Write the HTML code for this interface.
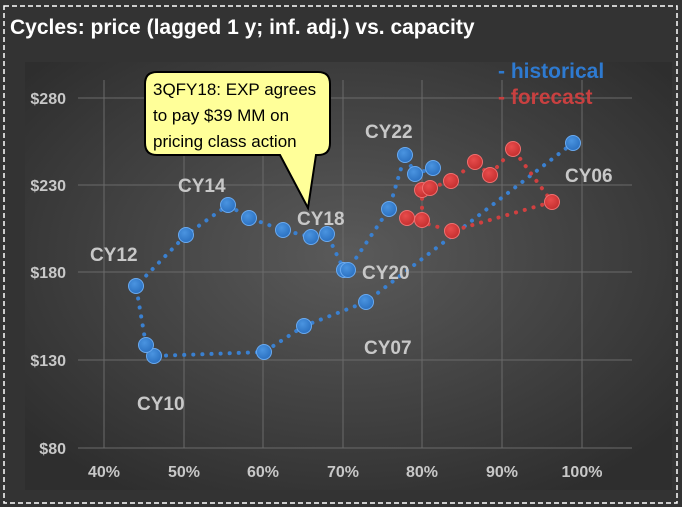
<!DOCTYPE html>
<html><head><style>
html,body{margin:0;padding:0;background:#333;}
svg{display:block;font-family:"Liberation Sans",Arial,sans-serif;}
</style></head><body>
<svg width="682" height="507" viewBox="0 0 682 507" xmlns="http://www.w3.org/2000/svg">
<defs>
<radialGradient id="bg" cx="0.5" cy="0.45" r="0.65">
<stop offset="0" stop-color="#5a5a5a"/><stop offset="1" stop-color="#2e2e2e"/>
</radialGradient>
<radialGradient id="bl" cx="0.4" cy="0.35" r="0.6"><stop offset="0" stop-color="#4a94e0"/><stop offset="1" stop-color="#2e74c4"/></radialGradient>
<radialGradient id="rd" cx="0.4" cy="0.35" r="0.6"><stop offset="0" stop-color="#e84c4c"/><stop offset="1" stop-color="#c83232"/></radialGradient>
</defs>
<rect width="682" height="507" fill="#333"/>
<rect x="4" y="6" width="673" height="497" fill="none" stroke="#fff" stroke-width="1.5" stroke-dasharray="5,3"/>
<text x="10" y="34" fill="#fff" font-size="21" font-weight="bold">Cycles: price (lagged 1 y; inf. adj.) vs. capacity</text>
<rect x="25" y="62" width="647" height="428" fill="url(#bg)"/>
<g stroke="#6a6a6a" stroke-width="1">
<line x1="104" y1="80" x2="104" y2="448"/><line x1="184" y1="80" x2="184" y2="448"/><line x1="263" y1="80" x2="263" y2="448"/><line x1="343" y1="80" x2="343" y2="448"/><line x1="422" y1="80" x2="422" y2="448"/><line x1="502" y1="80" x2="502" y2="448"/><line x1="582" y1="80" x2="582" y2="448"/>
<line x1="78" y1="98" x2="632" y2="98"/><line x1="78" y1="185" x2="632" y2="185"/><line x1="78" y1="272" x2="632" y2="272"/><line x1="78" y1="360" x2="632" y2="360"/><line x1="78" y1="448" x2="632" y2="448"/>
</g>
<g fill="#c8c8c8" font-size="16" font-weight="bold" text-anchor="end">
<text x="66" y="104">$280</text><text x="66" y="191">$230</text><text x="66" y="278">$180</text><text x="66" y="366">$130</text><text x="66" y="454">$80</text>
</g>
<g fill="#c8c8c8" font-size="16" font-weight="bold" text-anchor="middle">
<text x="104" y="477">40%</text><text x="184" y="477">50%</text><text x="263" y="477">60%</text><text x="343" y="477">70%</text><text x="422" y="477">80%</text><text x="502" y="477">90%</text><text x="582" y="477">100%</text>
</g>
<polyline fill="none" stroke="#3a80d0" stroke-width="4" stroke-dasharray="0.1,9" stroke-linecap="round"
 points="573,143 366,302 304,326 264,352 154,356 146,345 136,286 186,235 228,205 249,218 283,230 311,237 327,234 344,270 348,270 389,209 405,155 415,174 433,168"/>
<polyline fill="none" stroke="#d04040" stroke-width="4" stroke-dasharray="0.1,9" stroke-linecap="round"
 points="407,218 422,220 422,190 430,188 451,181 475,162 490,175 513,149 552,202 452,231 407,218"/>
<g fill="url(#bl)" stroke="#6aaaf0" stroke-width="1">
<circle cx="573" cy="143" r="7.5"/><circle cx="366" cy="302" r="7.5"/><circle cx="304" cy="326" r="7.5"/><circle cx="264" cy="352" r="7.5"/><circle cx="154" cy="356" r="7.5"/><circle cx="146" cy="345" r="7.5"/><circle cx="136" cy="286" r="7.5"/><circle cx="186" cy="235" r="7.5"/><circle cx="228" cy="205" r="7.5"/><circle cx="249" cy="218" r="7.5"/><circle cx="283" cy="230" r="7.5"/><circle cx="311" cy="237" r="7.5"/><circle cx="327" cy="234" r="7.5"/><circle cx="344" cy="270" r="7.5"/><circle cx="348" cy="270" r="7.5"/><circle cx="389" cy="209" r="7.5"/><circle cx="405" cy="155" r="7.5"/><circle cx="415" cy="174" r="7.5"/><circle cx="433" cy="168" r="7.5"/>
</g>
<g fill="url(#rd)" stroke="#f07070" stroke-width="1">
<circle cx="407" cy="218" r="7.5"/><circle cx="422" cy="220" r="7.5"/><circle cx="422" cy="190" r="7.5"/><circle cx="430" cy="188" r="7.5"/><circle cx="451" cy="181" r="7.5"/><circle cx="475" cy="162" r="7.5"/><circle cx="490" cy="175" r="7.5"/><circle cx="513" cy="149" r="7.5"/><circle cx="552" cy="202" r="7.5"/><circle cx="452" cy="231" r="7.5"/>
</g>
<g fill="#c8c8c8" font-size="19" font-weight="bold">
<text x="365" y="138">CY22</text><text x="565" y="182">CY06</text><text x="178" y="192">CY14</text><text x="90" y="261">CY12</text><text x="297" y="225">CY18</text><text x="362" y="279">CY20</text><text x="364" y="354">CY07</text><text x="137" y="410">CY10</text>
</g>
<g font-size="21" font-weight="bold">
<text x="498" y="78" fill="#2e7ad0">- historical</text>
<text x="498" y="104" fill="#c84040">- forecast</text>
</g>
<path d="M157,72 H318 Q330,72 330,84 V143 Q330,155 318,155 H316 L308,208 L280,155 H157 Q145,155 145,143 V84 Q145,72 157,72 Z" fill="#ffff99" stroke="#000" stroke-width="2"/>
<g font-size="17" fill="#000" font-family="'Liberation Sans',Arial,sans-serif">
<text x="153" y="95">3QFY18: EXP agrees</text>
<text x="153" y="121">to pay $39 MM on</text>
<text x="153" y="147">pricing class action</text>
</g>
</svg>
</body></html>
